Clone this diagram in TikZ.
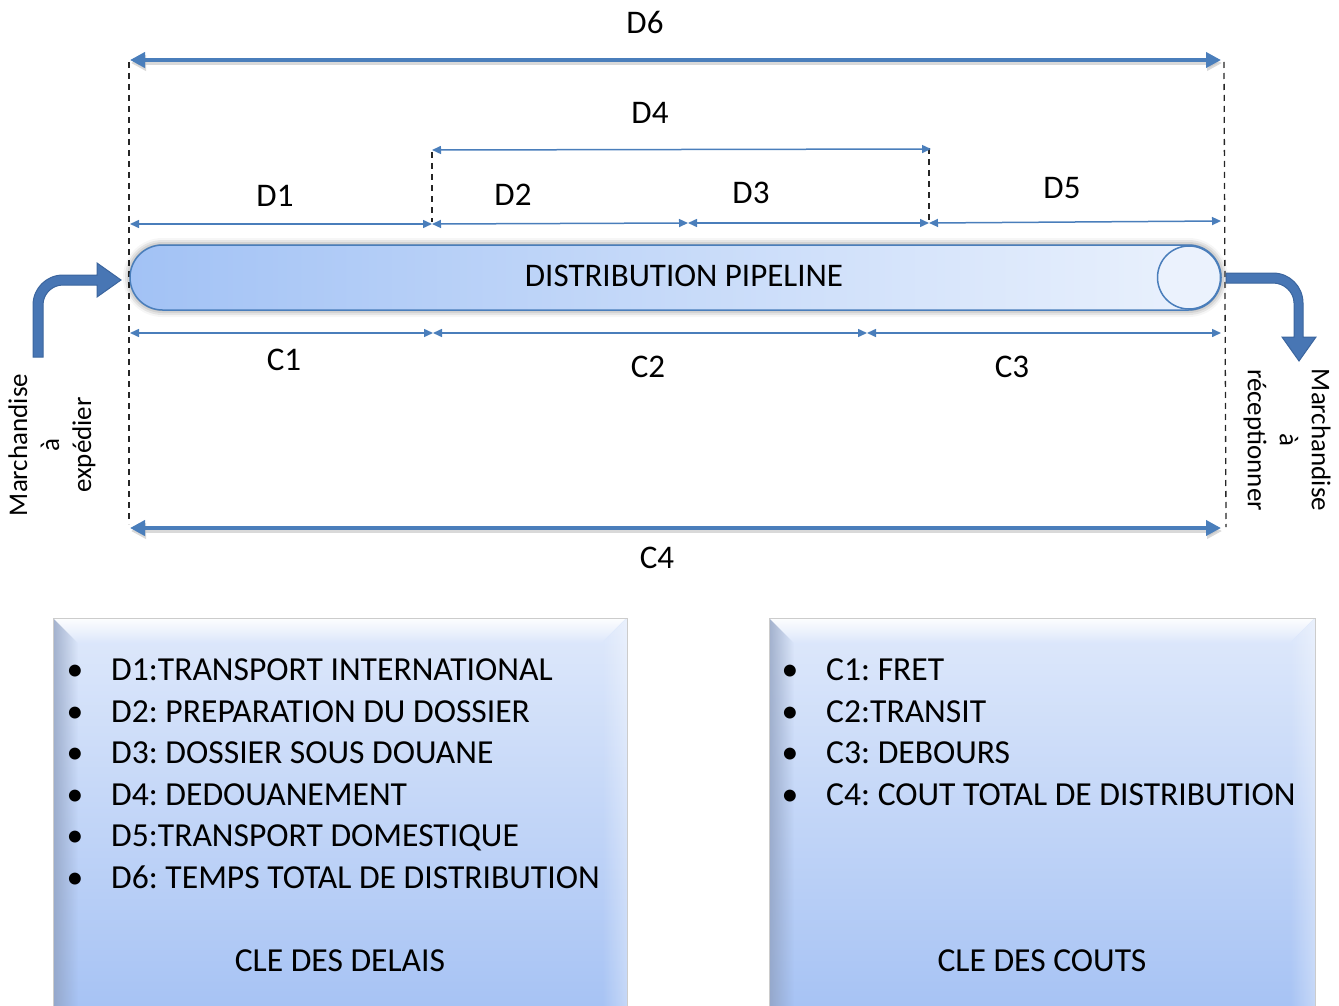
\documentclass[tikz,border=0pt]{standalone}
\usepackage{fontspec}
\setmainfont{Carlito}
\usetikzlibrary{arrows.meta,shadows.blur,calc,fadings}

\definecolor{lineblue}{HTML}{4A7EBB}
\definecolor{pipeL}{HTML}{A2C2F5}
\definecolor{pipeR}{HTML}{EBF2FD}
\definecolor{boxtop}{HTML}{DFE9FB}
\definecolor{boxbot}{HTML}{A7C3F4}
\definecolor{bevelside}{HTML}{8E9EBD}
\definecolor{bentfill}{HTML}{4876B4}
\definecolor{bentedge}{HTML}{3B659E}

\tikzset{
  thin/.style={draw=lineblue, line width=1.5pt,
    {Triangle[length=9pt,width=8pt]}-{Triangle[length=9pt,width=8pt]}},
  thick/.style={draw=lineblue, line width=4.5pt,
    {Triangle[length=15pt,width=15pt]}-{Triangle[length=15pt,width=15pt]}},
  thickshade/.style={draw=black!25, line width=4.5pt,
    {Triangle[length=15pt,width=15pt]}-{Triangle[length=15pt,width=15pt]}},
  guide/.style={draw=black!85, line width=1.3pt, dash pattern=on 6pt off 5pt},
  lbl/.style={font=\fontsize{33}{38}\selectfont, inner sep=0pt},
  rot/.style={font=\fontsize{27}{32}\selectfont, align=center, inner sep=0pt},
  item/.style={font=\fontsize{33.6}{40}\selectfont, anchor=base west, inner sep=0pt},
  bul/.style={font=\fontsize{33.6}{40}\selectfont, anchor=base, inner sep=0pt},
  bent/.style={fill=bentfill, draw=bentedge, line width=1pt},
}

\begin{document}
\frenchspacing
\begin{tikzpicture}[x=1pt,y=-1pt]
\useasboundingbox (0,0) rectangle (1339,1006);

% end points of the dimension lines
\coordinate (L6) at (130,60);   \coordinate (R6) at (1221,60);
\coordinate (L4) at (432,150);  \coordinate (R4) at (931,149);
\coordinate (a0) at (130,224);  \coordinate (a1) at (432,224);
\coordinate (a2) at (688,223);  \coordinate (a3) at (929,223);
\coordinate (a4) at (1221,221);
\coordinate (c0) at (130,333);  \coordinate (c1) at (433,333);
\coordinate (c2) at (867,333);  \coordinate (c3) at (1221,333);
\coordinate (LC4) at (130,528); \coordinate (RC4) at (1221,528);

% dashed guides
\coordinate (gl1) at (129,62);  \coordinate (gl2) at (129,524);
\coordinate (gr1) at (1224,62); \coordinate (gr2) at (1226,527);
\coordinate (gd1) at (432,152); \coordinate (gd2) at (432,222);
\coordinate (ge1) at (929,148); \coordinate (ge2) at (929,222);
\draw[guide] (gl1) -- (gl2);
\draw[guide] (gr1) -- (gr2);
\draw[guide] (gd1) -- (gd2);
\draw[guide] (ge1) -- (ge2);

% total time and total cost
\draw[thickshade, opacity=0.6] ($(L6)+(1,3)$) -- ($(R6)+(1,3)$);
\draw[thick] (L6) -- (R6);
\draw[thickshade, opacity=0.6] ($(LC4)+(1,3)$) -- ($(RC4)+(1,3)$);
\draw[thick] (LC4) -- (RC4);

% delay segments
\draw[thin] (L4) -- (R4);
\draw[thin] (a0) -- (a1);
\draw[thin] (a1) -- (a2);
\draw[thin] (a2) -- (a3);
\draw[thin] (a3) -- (a4);

% cost segments
\draw[thin] (c0) -- (c1);
\draw[thin] (c1) -- (c2);
\draw[thin] (c2) -- (c3);

% the pipeline
\draw[draw=lineblue, line width=1.5pt, left color=pipeL, right color=pipeR,
  rounded corners=32.5pt,
  blur shadow={shadow xshift=0pt, shadow yshift=0pt, shadow blur radius=7pt, shadow opacity=55}]
  (130,245) rectangle (1221,310);
\draw[draw=lineblue, line width=1.5pt, fill=pipeR] (1189,277.5) circle (31.5pt);
\node[lbl] (pipe) at (684,276) {DISTRIBUTION PIPELINE};

% incoming and outgoing goods
\draw[bent] (33,357) -- (33,305) .. controls (33,288.4) and (46.4,275) .. (63,275)
  -- (97,275) -- (97,263) -- (121,280) -- (97,297) -- (97,285) -- (63,285)
  .. controls (52,285) and (43,294) .. (43,305) -- (43,357) -- cycle;
\draw[bent] (1226,273) -- (1273,273) .. controls (1289.6,273) and (1303,286.4) .. (1303,303)
  -- (1303,337) -- (1316,337) -- (1299,361) -- (1282,337) -- (1294,337) -- (1294,303)
  .. controls (1294,292) and (1284,283) .. (1273,283) -- (1226,283) -- cycle;

\node[rot, rotate=90] (send) at (52,445) {Marchandise\\à\\expédier};
\node[rot, rotate=-90] (recv) at (1287,440) {Marchandise\\à\\réceptionner};

% dimension labels
\node[lbl] (tD6) at (645,22) {D6};
\node[lbl] (tD4) at (650,113) {D4};
\node[lbl] (tD1) at (275,196) {D1};
\node[lbl] (tD2) at (513,195) {D2};
\node[lbl] (tD3) at (751,193) {D3};
\node[lbl] (tD5) at (1062,188) {D5};
\node[lbl] (tC1) at (284,360) {C1};
\node[lbl] (tC2) at (648,367) {C2};
\node[lbl] (tC3) at (1012,367) {C3};
\node[lbl] (tC4) at (657,558) {C4};

% bevelled key boxes
\foreach \xl/\xr in {53/627, 769/1315}{
  \fill[top color=boxtop, bottom color=boxbot] (\xl,618) rectangle (\xr,1006);
  \fill[white, path fading=south, opacity=0.95]
    (\xl,618) -- (\xr,618) -- (\xr-25,643) -- (\xl+25,643) -- cycle;
  \fill[bevelside, path fading=east, opacity=0.75]
    (\xl,618) -- (\xl+25,643) -- (\xl+25,1006) -- (\xl,1006) -- cycle;
  \fill[white, path fading=west, opacity=0.35]
    (\xr,618) -- (\xr-25,643) -- (\xr-25,1006) -- (\xr,1006) -- cycle;
  \draw[black!20, line width=0.8pt] (\xl,1006) -- (\xl,618) -- (\xr,618) -- (\xr,1006);
}

% key of delays
\foreach \y/\t in {680/D1:TRANSPORT INTERNATIONAL, 722/D2: PREPARATION DU DOSSIER,
  763/D3: DOSSIER SOUS DOUANE, 805/D4: DEDOUANEMENT,
  846/D5:TRANSPORT DOMESTIQUE, 888/D6: TEMPS TOTAL DE DISTRIBUTION}{
  \node[bul] at (75,\y) {•};
  \node[item] at (111,\y) {\t};
}
\node[bul] (keyD) at (340,971) {CLE DES DELAIS};

% key of costs
\foreach \y/\t in {680/C1: FRET, 722/C2:TRANSIT, 763/C3: DEBOURS,
  805/C4: COUT TOTAL DE DISTRIBUTION}{
  \node[bul] at (790,\y) {•};
  \node[item] at (826,\y) {\t};
}
\node[bul] (keyC) at (1042,971) {CLE DES COUTS};

\end{tikzpicture}
\end{document}
